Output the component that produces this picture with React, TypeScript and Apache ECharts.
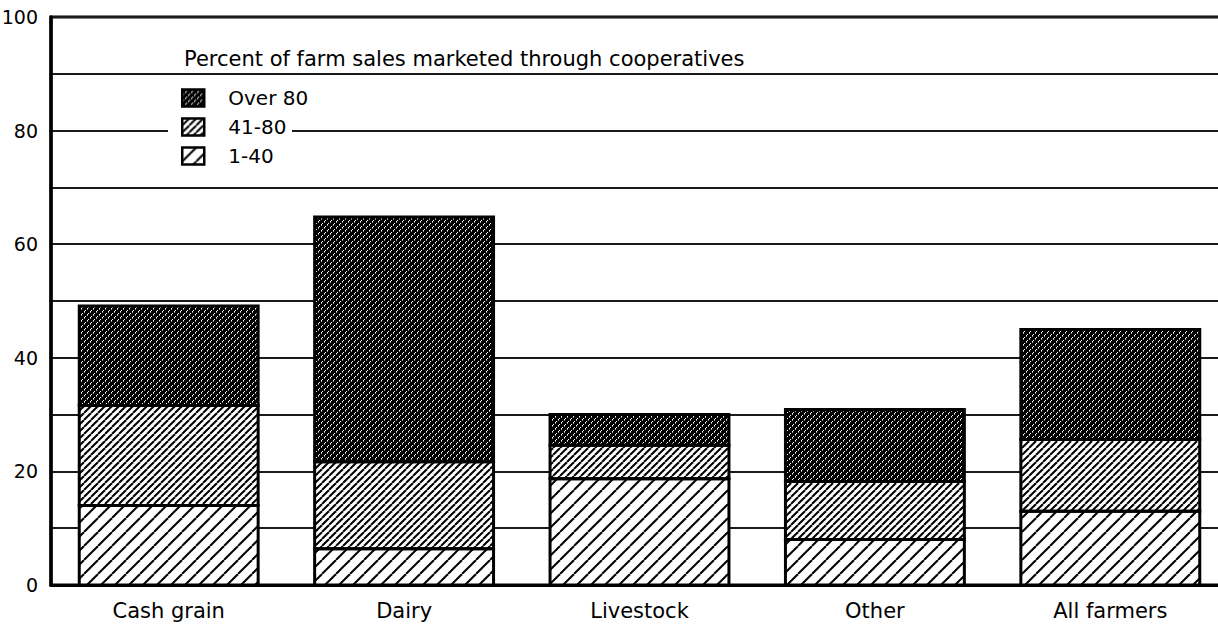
import React, { useEffect, useRef } from "react";
import * as echarts from "echarts";

const categories = ["Cash grain", "Dairy", "Livestock", "Other", "All farmers"];
const seriesNames = ["1-40", "41-80", "Over 80"];
const legendOrder = ["Over 80", "41-80", "1-40"];
const low = [14.0, 6.4, 18.7, 8.0, 13.0];
const mid = [17.6, 15.3, 5.9, 10.2, 12.6];
const high = [17.5, 43.1, 5.4, 12.7, 19.4];
const yLabelValues = [0, 20, 40, 60, 80, 100];
const titleText = "Percent of farm sales marketed through cooperatives";

const FONT = "'DejaVu Sans', 'Liberation Sans', Arial, sans-serif";
const BAR_FRACTION = 0.76;

function linePattern(s: number, lw: number) {
  const c = document.createElement("canvas");
  c.width = s;
  c.height = s;
  const ctx = c.getContext("2d")!;
  ctx.fillStyle = "#fff";
  ctx.fillRect(0, 0, s, s);
  ctx.strokeStyle = "#000";
  ctx.lineWidth = lw;
  for (let k = -1; k <= 1; k++) {
    ctx.beginPath();
    ctx.moveTo(k * s, s);
    ctx.lineTo(k * s + s, 0);
    ctx.stroke();
  }
  return { image: c, repeat: "repeat", imageWidth: s, imageHeight: s };
}

function darkPattern() {
  const s = 6;
  const c = document.createElement("canvas");
  c.width = s;
  c.height = s;
  const ctx = c.getContext("2d")!;
  ctx.fillStyle = "#000";
  ctx.fillRect(0, 0, s, s);
  for (let x = 0; x < s; x++) {
    for (let y = 0; y < s; y++) {
      const d = (x + y) % s;
      if (d === 5 && x % 3 !== 2) {
        ctx.fillStyle = "#fff";
        ctx.fillRect(x, y, 1, 1);
      } else if (d === 0 && x % 3 === 0) {
        ctx.fillStyle = "#999";
        ctx.fillRect(x, y, 1, 1);
      }
    }
  }
  return { image: c, repeat: "repeat", imageWidth: s, imageHeight: s };
}

export default function App() {
  const ref = useRef<HTMLDivElement>(null);
  useEffect(() => {
    if (!ref.current) return;
    const chart = echarts.init(ref.current, undefined, { renderer: "svg" });
    const fills = [linePattern(14, 2), linePattern(7, 2), darkPattern()];
    const data = [low, mid, high];

    // segment outlines: [categoryIndex, base, top], derived from the data arrays
    const outlines: number[][] = [];
    categories.forEach((_, ci) => {
      let base = 0;
      data.forEach((arr) => {
        outlines.push([ci, base, base + arr[ci]]);
        base += arr[ci];
      });
    });

    const option: any = {
      animation: false,
      backgroundColor: "#fff",
      grid: {
        left: 51,
        top: 17,
        bottom: 41,
        width: 1177,
        outerBoundsMode: "none",
        containLabel: false,
        show: true,
        borderColor: "#000",
        borderWidth: 3,
        backgroundColor: "transparent",
      },
      legend: {
        data: legendOrder,
        orient: "vertical",
        left: 171,
        top: 88,
        padding: [0, 0, 0, 10],
        itemWidth: 22,
        itemHeight: 17,
        itemGap: 9,
        icon: "rect",
        selectedMode: false,
        z: 5,
        itemStyle: { borderColor: "#000", borderWidth: 2.5 },
        textStyle: {
          fontFamily: FONT,
          fontSize: 20,
          lineHeight: 18,
          color: "#000",
          padding: [0, 0, 0, 19],
        },
      },
      graphic: [
        {
          type: "rect",
          z: 3,
          shape: { x: 168, y: 126, width: 124, height: 15 },
          style: { fill: "#fff" },
        },
        {
          type: "text",
          z: 10,
          x: 184,
          y: 59,
          style: {
            text: titleText,
            font: `21px ${FONT}`,
            fill: "#000",
            verticalAlign: "middle",
          },
        },
      ],
      xAxis: {
        type: "category",
        data: categories,
        axisLine: { show: true, lineStyle: { color: "#000", width: 3 } },
        axisTick: { show: false },
        axisLabel: { fontFamily: FONT, fontSize: 21, color: "#000", margin: 15 },
      },
      yAxis: {
        type: "value",
        min: 0,
        max: 100,
        interval: 10,
        axisLine: { show: true, lineStyle: { color: "#000", width: 3.5 } },
        axisTick: { show: false },
        axisLabel: {
          fontFamily: FONT,
          fontSize: 19,
          color: "#000",
          margin: 13,
          formatter: (v: number) => (yLabelValues.includes(v) ? String(v) : ""),
        },
        splitLine: { show: true, lineStyle: { color: "#1a1a1a", width: 2 } },
      },
      series: [
        ...seriesNames.map((name, i) => ({
          name,
          type: "bar",
          stack: "total",
          barWidth: `${BAR_FRACTION * 100}%`,
          data: data[i],
          itemStyle: { color: fills[i], borderWidth: 0 },
          emphasis: { disabled: true },
        })),
        {
          name: "outline",
          type: "custom",
          data: outlines,
          encode: { x: 0, y: [1, 2] },
          z: 5,
          silent: true,
          renderItem: (params: any, api: any) => {
            const ci = api.value(0);
            const p0 = api.coord([ci, api.value(1)]);
            const p1 = api.coord([ci, api.value(2)]);
            const w = api.size([1, 0])[0] * BAR_FRACTION;
            return {
              type: "rect",
              shape: { x: p0[0] - w / 2, y: p1[1], width: w, height: p0[1] - p1[1] },
              style: { fill: "none", stroke: "#000", lineWidth: 3 },
            };
          },
        },
      ],
    };
    chart.setOption(option);
    return () => chart.dispose();
  }, []);
  return (
    <div
      ref={ref}
      style={{ position: "fixed", left: 0, top: 0, width: 1218, height: 626 }}
    />
  );
}
